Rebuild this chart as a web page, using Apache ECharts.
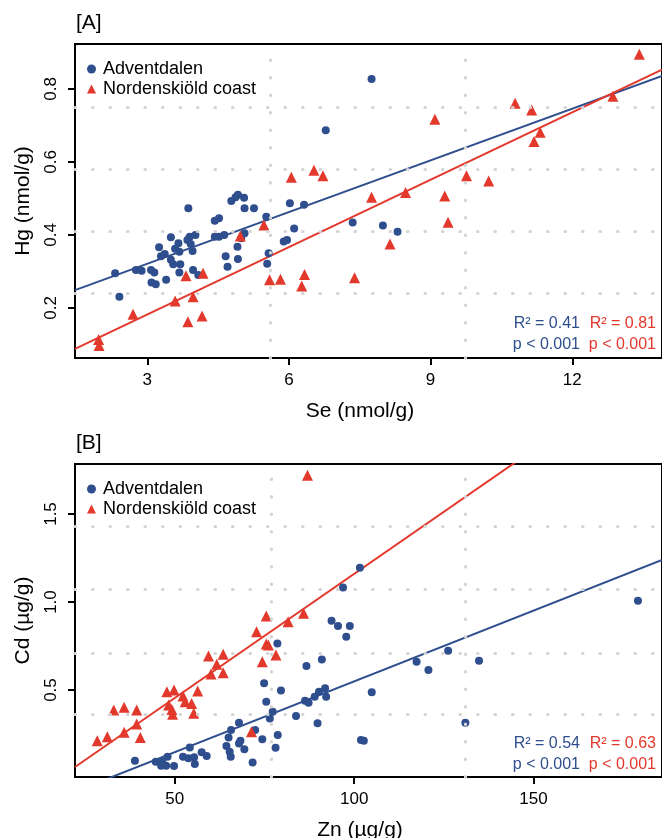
<!DOCTYPE html>
<html>
<head>
<meta charset="utf-8">
<script src="https://cdn.jsdelivr.net/npm/echarts@6/dist/echarts.min.js"></script>
<style>
  html, body { margin: 0; padding: 0; background: #fff; }
  #chart { width: 662px; height: 838px; }
</style>
</head>
<body>
<div id="chart"></div>
<script>
// ---- Panel A: Se (nmol/g) vs Hg (nmol/g) ----
const adventSeHg = [
  [2.32, 0.295], [2.41, 0.231], [2.76, 0.304], [2.88, 0.302], [3.08, 0.304],
  [3.15, 0.297], [3.09, 0.270], [3.18, 0.265], [3.40, 0.277], [3.25, 0.366],
  [3.29, 0.342], [3.37, 0.348], [3.50, 0.394], [3.50, 0.332], [3.55, 0.320],
  [3.59, 0.362], [3.66, 0.377], [3.68, 0.354], [3.70, 0.320], [3.68, 0.297],
  [3.87, 0.473], [3.85, 0.386], [3.90, 0.395], [3.92, 0.375], [4.02, 0.400],
  [3.96, 0.356], [3.97, 0.304], [4.08, 0.290], [4.43, 0.439], [4.52, 0.446],
  [4.43, 0.395], [4.52, 0.395], [4.63, 0.400], [4.66, 0.342], [4.70, 0.313],
  [4.78, 0.493], [4.87, 0.503], [4.92, 0.510], [5.05, 0.502], [5.06, 0.473],
  [5.26, 0.473], [4.91, 0.368], [4.92, 0.334], [4.99, 0.391], [5.06, 0.405],
  [5.52, 0.450], [5.57, 0.350], [5.54, 0.321], [6.02, 0.487], [6.32, 0.483],
  [6.11, 0.418], [5.89, 0.382], [5.96, 0.386], [7.35, 0.434], [7.99, 0.426],
  [8.30, 0.409], [6.78, 0.687], [7.75, 0.827]
];
const nordSeHg = [
  [1.97, 0.114], [1.98, 0.097], [2.70, 0.183], [3.59, 0.219], [3.82, 0.288],
  [3.86, 0.162], [3.97, 0.231], [4.16, 0.178], [4.18, 0.295], [4.97, 0.397],
  [5.47, 0.427], [5.59, 0.277], [5.82, 0.279], [6.05, 0.558], [6.27, 0.260],
  [6.33, 0.292], [6.53, 0.577], [6.72, 0.562], [7.39, 0.283], [7.75, 0.503],
  [8.14, 0.375], [8.47, 0.516], [9.09, 0.717], [9.30, 0.507], [9.37, 0.435],
  [9.76, 0.562], [10.23, 0.548], [10.79, 0.761], [11.14, 0.742], [11.19, 0.656],
  [11.32, 0.681], [12.86, 0.780], [13.42, 0.895]
];
// linear fits: [intercept, slope]
const fitAdventA = [0.1796, 0.0472];
const fitNordA = [-0.0024, 0.0615];
const statsAdventA = ['R² = 0.41', 'p < 0.001'];
const statsNordA = ['R² = 0.81', 'p < 0.001'];
const ticksSe = [3, 6, 9, 12];
const ticksHg = [0.2, 0.4, 0.6, 0.8];
const rangeSe = [1.47, 13.9];
const rangeHg = [0.063, 0.923];
const gridSe = [5.60, 9.73];
const gridHg = [0.751, 0.581, 0.408, 0.241];

// ---- Panel B: Zn (µg/g) vs Cd (µg/g) ----
const adventZnCd = [
  [38.9, 0.098], [44.7, 0.093], [46.2, 0.070], [46.5, 0.093], [47.6, 0.070],
  [48.0, 0.121], [49.8, 0.068], [52.3, 0.121], [53.8, 0.112], [54.2, 0.174],
  [55.4, 0.118], [55.6, 0.080], [57.5, 0.146], [58.9, 0.125], [64.4, 0.182],
  [65.0, 0.231], [65.3, 0.149], [65.6, 0.121], [65.7, 0.273], [67.9, 0.314],
  [67.9, 0.197], [68.3, 0.212], [69.4, 0.163], [71.7, 0.089], [72.4, 0.273],
  [74.4, 0.220], [74.9, 0.538], [75.5, 0.434], [76.5, 0.339], [77.3, 0.377],
  [78.1, 0.172], [78.6, 0.765], [78.7, 0.244], [79.6, 0.498], [83.8, 0.352],
  [86.3, 0.439], [86.7, 0.636], [87.3, 0.428], [89.0, 0.462], [89.8, 0.311],
  [90.2, 0.490], [91.0, 0.674], [91.9, 0.510], [92.2, 0.462], [93.7, 0.894],
  [95.5, 0.864], [96.9, 1.083], [97.8, 0.803], [98.8, 0.864], [101.6, 1.195],
  [101.9, 0.216], [102.7, 0.212], [104.9, 0.487], [117.4, 0.661], [120.7, 0.614],
  [126.2, 0.723], [131.0, 0.314], [134.8, 0.667], [179.1, 1.007]
];
const nordZnCd = [
  [28.4, 0.212], [31.2, 0.235], [33.0, 0.386], [35.9, 0.402], [35.9, 0.260],
  [39.4, 0.386], [39.4, 0.307], [40.4, 0.231], [47.8, 0.490], [48.3, 0.415],
  [49.2, 0.390], [49.4, 0.362], [49.8, 0.500], [52.3, 0.466], [52.9, 0.434],
  [54.7, 0.424], [55.3, 0.368], [56.4, 0.494], [59.4, 0.693], [60.1, 0.591],
  [61.7, 0.646], [63.5, 0.703], [63.5, 0.598], [71.4, 0.263], [72.8, 0.831],
  [74.4, 0.661], [75.5, 0.761], [76.1, 0.756], [75.5, 0.920], [78.2, 0.699],
  [81.6, 0.888], [85.9, 0.936], [87.0, 1.720]
];
const fitAdventB = [-0.255, 0.00804];
const fitNordB = [-0.25, 0.0141];
const statsAdventB = ['R² = 0.54', 'p < 0.001'];
const statsNordB = ['R² = 0.63', 'p < 0.001'];
const ticksZn = [50, 100, 150];
const ticksCd = [0.5, 1.0, 1.5];
const rangeZn = [22.2, 185.8];
const rangeCd = [0.006, 1.784];
const gridZn = [76.8, 131.1];
const gridCd = [1.426, 1.074, 0.710, 0.358];

const BLUE = '#2F4E8D';
const RED = '#E3392D';
const FONT = '"Liberation Sans", Arial, Helvetica, sans-serif';
const GRIDDOT = '#d4d4d4';

const panels = [
  { top: 44, bottom: 358, title: '[A]', xName: 'Se (nmol/g)', yName: 'Hg (nmol/g)',
    xr: rangeSe, yr: rangeHg, xt: ticksSe, yt: ticksHg,
    blue: adventSeHg, red: nordSeHg, fb: fitAdventA, fr: fitNordA,
    sb: statsAdventA, sr: statsNordA, gx: gridSe, gy: gridHg },
  { top: 464, bottom: 777, title: '[B]', xName: 'Zn (µg/g)', yName: 'Cd (µg/g)',
    xr: rangeZn, yr: rangeCd, xt: ticksZn, yt: ticksCd,
    blue: adventZnCd, red: nordZnCd, fb: fitAdventB, fr: fitNordB,
    sb: statsAdventB, sr: statsNordB, gx: gridZn, gy: gridCd }
];

const LEFT = 75, RIGHT_EDGE = 663;

const grids = [], xAxes = [], yAxes = [], series = [], graphics = [], legends = [];

function fitLine(fit, xr) {
  return [[xr[0], fit[0] + fit[1] * xr[0]], [xr[1], fit[0] + fit[1] * xr[1]]];
}

panels.forEach((p, i) => {
  grids.push({
    left: LEFT, top: p.top, width: RIGHT_EDGE - LEFT, height: p.bottom - p.top,
    show: true, borderColor: '#000', borderWidth: 2, backgroundColor: 'transparent'
  });
  xAxes.push({
    gridIndex: i, type: 'value', min: p.xr[0], max: p.xr[1],
    axisLine: { show: true, lineStyle: { color: '#000', width: 2 } },
    axisTick: { show: true, customValues: p.xt, length: 7, lineStyle: { color: '#000', width: 2 } },
    axisLabel: { show: true, customValues: p.xt, fontSize: 17, color: '#000', fontFamily: FONT, margin: 14,
      formatter: v => String(v) },
    splitLine: { show: false }
  });
  yAxes.push({
    gridIndex: i, type: 'value', min: p.yr[0], max: p.yr[1],
    axisLine: { show: true, lineStyle: { color: '#000', width: 2 } },
    axisTick: { show: true, customValues: p.yt, length: 7, lineStyle: { color: '#000', width: 2 } },
    axisLabel: { show: true, customValues: p.yt, fontSize: 17, color: '#000', fontFamily: FONT,
      rotate: 90, margin: 15, formatter: v => v.toFixed(1) },
    splitLine: { show: false }
  });

  // dotted reference grid
  series.push({
    type: 'line', xAxisIndex: i, yAxisIndex: i, data: [], z: 1, silent: true,
    markLine: {
      silent: true, symbol: ['none', 'none'], label: { show: false },
      animation: false,
      lineStyle: { color: GRIDDOT, width: 3.2, type: [0.5, 17], cap: 'round' },
      emphasis: { disabled: true },
      data: p.gx.map(v => ({ xAxis: v })).concat(p.gy.map(v => ({ yAxis: v })))
    }
  });

  // regression lines
  series.push({
    type: 'line', xAxisIndex: i, yAxisIndex: i, data: fitLine(p.fb, p.xr),
    showSymbol: false, symbol: 'none', clip: true, z: 3, silent: true,
    lineStyle: { color: BLUE, width: 2 }
  });
  series.push({
    type: 'line', xAxisIndex: i, yAxisIndex: i, data: fitLine(p.fr, p.xr),
    showSymbol: false, symbol: 'none', clip: true, z: 3, silent: true,
    lineStyle: { color: RED, width: 2 }
  });

  // points
  series.push({
    name: 'Adventdalen', type: 'scatter', xAxisIndex: i, yAxisIndex: i,
    data: p.blue, symbol: 'circle', symbolSize: 8, z: 4,
    itemStyle: { color: BLUE, opacity: 1 }
  });
  series.push({
    name: 'Nordenskiöld coast', type: 'scatter', xAxisIndex: i, yAxisIndex: i,
    data: p.red, symbol: 'triangle', symbolSize: 11, z: 4,
    itemStyle: { color: RED, opacity: 1 }
  });

  legends.push({
    left: 82, top: p.top + 11, orient: 'vertical', itemWidth: 9, itemHeight: 9, itemGap: 2,
    selectedMode: false,
    textStyle: { fontSize: 18, color: '#000', fontFamily: FONT, padding: [0, 0, 0, 2] },
    data: [{ name: 'Adventdalen', icon: 'circle' }, { name: 'Nordenskiöld coast', icon: 'triangle' }]
  });

  const off = p.top;
  graphics.push(
    { type: 'text', left: 76, top: off - 31,
      style: { text: p.title, fill: '#000', font: '21px ' + FONT } },
    { type: 'text', x: 360, y: p.bottom + 53, style: { text: p.xName, fill: '#000', font: '21px ' + FONT,
      align: 'center', verticalAlign: 'middle' } },
    { type: 'text', x: 23, y: (p.top + p.bottom) / 2, rotation: Math.PI / 2,
      style: { text: p.yName, fill: '#000', font: '21px ' + FONT, align: 'center', verticalAlign: 'middle' } },
    { type: 'text', x: 580, y: off + 290.5, style: { text: p.sb.join('\n'), fill: BLUE, font: '16px ' + FONT,
      align: 'right', verticalAlign: 'middle', lineHeight: 21 } },
    { type: 'text', x: 656, y: off + 290.5, style: { text: p.sr.join('\n'), fill: RED, font: '16px ' + FONT,
      align: 'right', verticalAlign: 'middle', lineHeight: 21 } }
  );
});

const chart = echarts.init(document.getElementById('chart'), null, { renderer: 'canvas' });
chart.setOption({
  animation: false,
  backgroundColor: '#fff',
  textStyle: { fontFamily: FONT },
  grid: grids,
  xAxis: xAxes,
  yAxis: yAxes,
  legend: legends,
  series: series,
  graphic: graphics
});
</script>
</body>
</html>
